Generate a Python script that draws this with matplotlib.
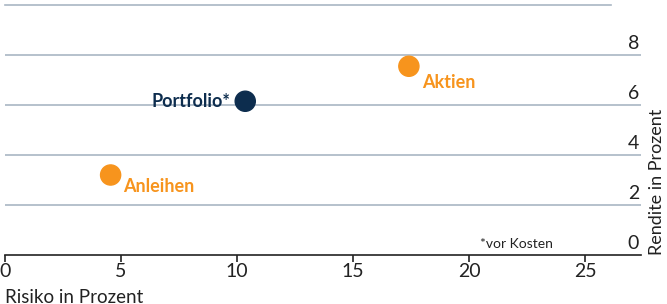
import matplotlib.pyplot as plt
import matplotlib.transforms as mtransforms

# daten
namen = ["Anleihen", "Portfolio*", "Aktien"]
risiko = [4.55, 10.35, 17.4]
rendite = [3.2, 6.15, 7.55]
farben = ["#F7941D", "#0D2D4E", "#F7941D"]
xticks = [0, 5, 10, 15, 20, 25]
yticks = [0, 2, 4, 6, 8]

plt.rcParams['font.family'] = ['Lato', 'DejaVu Sans']

fig = plt.figure(figsize=(6.67, 3.04), dpi=100)
ax = fig.add_axes([5/667, 49/304, 636/667, 250/304])
ax.set_xlim(0, 27.4)
ax.set_ylim(0, 10)

grid = "#A9B6C3"
# horizontale linien
for y in yticks[1:]:
    ax.axhline(y, color=grid, lw=1.2, zorder=1)
ax.plot([0, 26.1], [10, 10], color=grid, lw=1.2, clip_on=False, zorder=1)

# y-beschriftung rechts über den linien
trans = mtransforms.blended_transform_factory(ax.transAxes, ax.transData)
for y in yticks:
    ax.text(0.997, y + 0.12, str(y), transform=trans, ha='right', va='bottom',
            fontsize=14, color="#222222")

# punkte
ax.scatter(risiko, rendite, s=210, c=farben, zorder=3, clip_on=False)
ax.text(risiko[0] + 0.55, rendite[0] - 0.1, namen[0], color=farben[0],
        fontsize=13, fontweight='bold', ha='left', va='top')
ax.text(risiko[1] - 0.65, rendite[1], namen[1], color=farben[1],
        fontsize=13, fontweight='bold', ha='right', va='center')
ax.text(risiko[2] + 0.55, rendite[2] - 0.3, namen[2], color=farben[2],
        fontsize=13, fontweight='bold', ha='left', va='top')

ax.text(23.6, 0.2, "*vor Kosten", fontsize=10, ha='right', va='bottom',
        color="#222222")

# achsen
for s in ['top', 'right', 'left']:
    ax.spines[s].set_visible(False)
ax.spines['bottom'].set_color("#222222")
ax.spines['bottom'].set_linewidth(1.2)
ax.set_yticks([])
ax.set_xticks(xticks)
ax.tick_params(axis='x', length=5, width=1.2, color="#222222", labelsize=14,
               labelcolor="#222222", pad=1)

fig.text(5/667, -0.005, "Risiko in Prozent", fontsize=13.5, ha='left', va='bottom',
         color="#222222")
fig.text(657/667, 49/304, "Rendite in Prozent", fontsize=13, rotation=90,
         ha='center', va='bottom', color="#222222")

fig.savefig("out.png", dpi=100)
